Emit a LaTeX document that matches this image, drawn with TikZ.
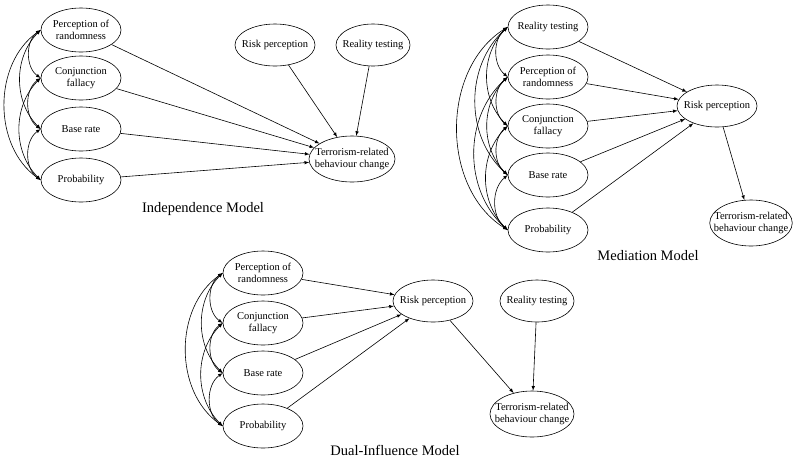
\documentclass[tikz,border=0pt]{standalone}
\usepackage{fontspec}
\setmainfont{Liberation Serif}
\usetikzlibrary{arrows,shapes.geometric}

\begin{document}
\begin{tikzpicture}[x=1pt,y=-1pt,line width=0.6pt]
	\useasboundingbox (0,0) rectangle (800,459);
	
	\tikzset{var/.style = {shape=ellipse,draw,align=center,inner sep=-8pt,minimum width=80pt,minimum height=44pt,font=\fontsize{10.5}{12}\selectfont}}
	\tikzset{title/.style = {font=\fontsize{14.5}{17}\selectfont}}
	\tikzstyle{effect} = [draw,-latex]
	\tikzstyle{cov} = [draw,latex-latex]
	
	% independence model
	\node[var] (ipr) at (81,30) {Perception of\\randomness};
	\node[var] (icf) at (81,78) {Conjunction\\fallacy};
	\node[var] (ibr) at (81,129) {Base rate};
	\node[var] (ipb) at (81,180) {Probability};
	\node[var,minimum height=42pt] (irp) at (275,45) {Risk perception};
	\node[var,minimum width=74pt,minimum height=42pt] (irt) at (373,45) {Reality testing};
	\node[var,minimum width=86pt,minimum height=46pt] (itr) at (352,159) {Terrorism-related\\behaviour change};
	\node[title] (itl) at (203,209) {Independence Model};
	
	\draw[effect] (ipr) -- (itr);
	\draw[effect] (icf) -- (itr);
	\draw[effect] (ibr) -- (itr);
	\draw[effect] (ipb) -- (itr);
	\draw[effect] (irp) -- (itr);
	\draw[effect] (irt) -- (itr);
	
	\draw[cov] (ipr.west) to[bend right=55] (icf.west);
	\draw[cov] (icf.west) to[bend right=55] (ibr.west);
	\draw[cov] (ibr.west) to[bend right=55] (ipb.west);
	\draw[cov] (ipr.west) to[bend right=45] (ibr.west);
	\draw[cov] (icf.west) to[bend right=45] (ipb.west);
	\draw[cov] (ipr.west) to[bend right=55] (ipb.west);
	
	% mediation model
	\node[var] (mrt) at (548,27) {Reality testing};
	\node[var] (mpr) at (548,77) {Perception of\\randomness};
	\node[var] (mcf) at (548,126) {Conjunction\\fallacy};
	\node[var] (mbr) at (548,175) {Base rate};
	\node[var] (mpb) at (548,230) {Probability};
	\node[var,minimum height=42pt] (mrp) at (717,106) {Risk perception};
	\node[var,minimum width=80pt,minimum height=46pt] (mtr) at (751,223) {Terrorism-related\\behaviour change};
	\node[title] (mtl) at (648,256) {Mediation Model};
	
	\draw[effect] (mrt) -- (mrp);
	\draw[effect] (mpr) -- (mrp);
	\draw[effect] (mcf) -- (mrp);
	\draw[effect] (mbr) -- (mrp);
	\draw[effect] (mpb) -- (mrp);
	\draw[effect] (mrp) -- (mtr);
	
	\draw[cov] (mrt.west) to[bend right=50] (mpr.west);
	\draw[cov] (mpr.west) to[bend right=50] (mcf.west);
	\draw[cov] (mcf.west) to[bend right=50] (mbr.west);
	\draw[cov] (mbr.west) to[bend right=50] (mpb.west);
	\draw[cov] (mrt.west) to[bend right=45] (mcf.west);
	\draw[cov] (mpr.west) to[bend right=45] (mbr.west);
	\draw[cov] (mcf.west) to[bend right=45] (mpb.west);
	\draw[cov] (mrt.west) to[bend right=48] (mbr.west);
	\draw[cov] (mpr.west) to[bend right=48] (mpb.west);
	\draw[cov] (mrt.west) to[bend right=58] (mpb.west);
	
	% dual-influence model
	\node[var] (dpr) at (263,273) {Perception of\\randomness};
	\node[var] (dcf) at (263,323) {Conjunction\\fallacy};
	\node[var] (dbr) at (263,373) {Base rate};
	\node[var] (dpb) at (263,426) {Probability};
	\node[var,minimum height=42pt] (drp) at (433,301) {Risk perception};
	\node[var,minimum width=74pt,minimum height=42pt] (drt) at (537,301) {Reality testing};
	\node[var,minimum width=84pt,minimum height=46pt] (dtr) at (532,414) {Terrorism-related\\behaviour change};
	\node[title] (dtl) at (395,450) {Dual-Influence Model};
	
	\draw[effect] (dpr) -- (drp);
	\draw[effect] (dcf) -- (drp);
	\draw[effect] (dbr) -- (drp);
	\draw[effect] (dpb) -- (drp);
	\draw[effect] (drp) -- (dtr);
	\draw[effect] (drt) -- (dtr);
	
	\draw[cov] (dpr.west) to[bend right=55] (dcf.west);
	\draw[cov] (dcf.west) to[bend right=55] (dbr.west);
	\draw[cov] (dbr.west) to[bend right=55] (dpb.west);
	\draw[cov] (dpr.west) to[bend right=45] (dbr.west);
	\draw[cov] (dcf.west) to[bend right=45] (dpb.west);
	\draw[cov] (dpr.west) to[bend right=55] (dpb.west);
\end{tikzpicture}
\end{document}
